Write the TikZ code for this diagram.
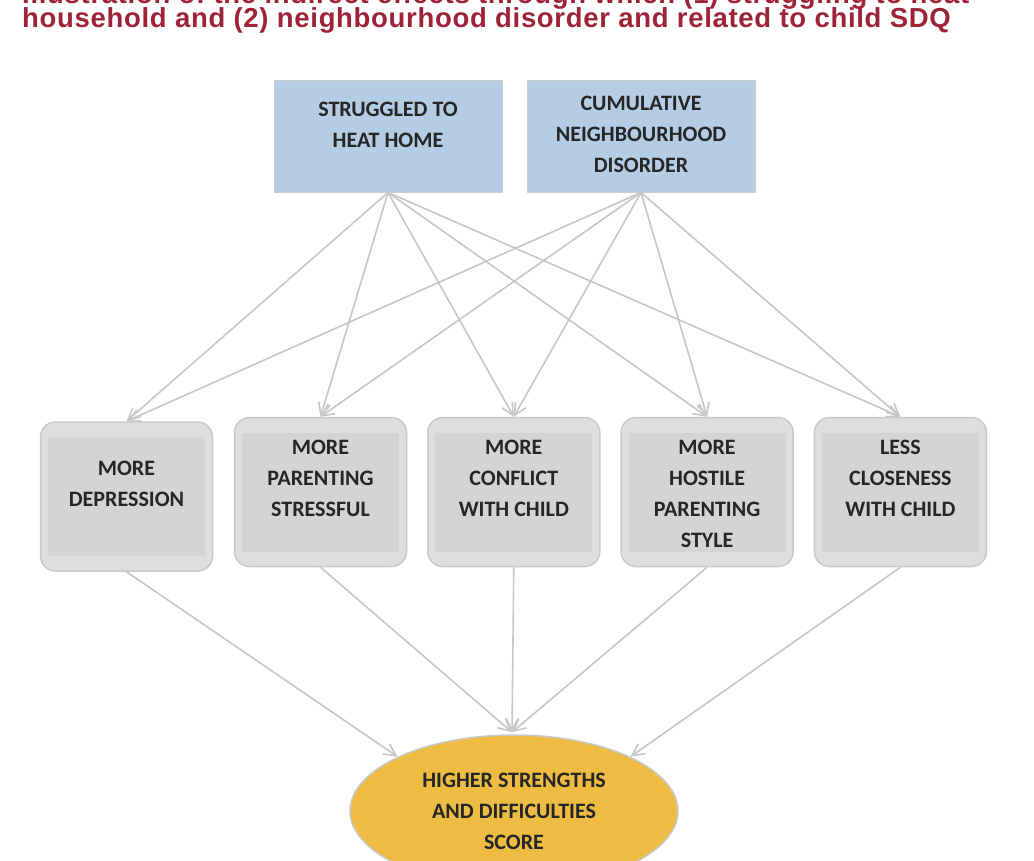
\documentclass[tikz,border=0pt]{standalone}
\usepackage{fontspec}
\setmainfont{Carlito}
\newfontfamily\titlefont[LetterSpace=2.5]{Liberation Sans}
\usepackage{tikz}
\usetikzlibrary{shapes,positioning,arrows.meta}

\definecolor{titlered}{RGB}{158,35,55}
\definecolor{textgray}{RGB}{38,38,38}
\definecolor{causeblue}{RGB}{180,205,228}
\definecolor{causeline}{RGB}{200,205,210}
\definecolor{medfill}{RGB}{221,222,224}
\definecolor{medinner}{RGB}{211,212,212}
\definecolor{medline}{RGB}{200,201,203}
\definecolor{linkgray}{RGB}{198,199,201}
\definecolor{sdqgold}{RGB}{238,188,66}

\newcommand{\boxtext}[3][170pt]{\parbox[c][#2][t]{#1}{\centering\strut #3}}

\begin{document}
\begin{tikzpicture}[x=1pt,y=-1pt,
      every node/.style={font=\fontsize{22}{31}\selectfont\bfseries,text=textgray,inner sep=0pt},
      cause/.style={rectangle,draw=causeline,fill=causeblue,line width=1pt,
        minimum width=228pt,minimum height=112pt},
      mediator/.style={rectangle,rounded corners=15pt,draw=medline,fill=medfill,line width=1.5pt,
        minimum width=172pt,minimum height=149pt,
        path picture={\fill[medinner,sharp corners] ([xshift=7.5pt,yshift=-15pt]path picture bounding box.north west)
          rectangle ([xshift=-7.5pt,yshift=15pt]path picture bounding box.south east);}},
      outcome/.style={ellipse,draw=medline,fill=sdqgold,line width=1.5pt,
        minimum width=328pt,minimum height=152pt,align=center},
      link/.style={draw=linkgray,line width=1.6pt,-{Straight Barb[length=12pt,width=12pt]}},
      heading/.style={anchor=base west,text=titlered,
        font=\titlefont\fontsize{27.5}{24}\selectfont\bfseries}]
    \useasboundingbox (0,0) rectangle (1034,860);

    % title, its first line cut off by the page
    \node[heading] (title1) at (22,3.5) {Illustration of the indirect effects through which (1) struggling to heat};
    \node[heading] (title2) at (22,27.3) {household and (2) neighbourhood disorder and related to child SDQ};

    % the two exposures
    \node[cause] (heat) at (388,136) {\boxtext[220pt]{83pt}{STRUGGLED TO\\HEAT HOME}};
    \node[cause] (nbh) at (641,136) {\boxtext[220pt]{94pt}{CUMULATIVE\\NEIGHBOURHOOD\\DISORDER}};

    % the five pathways
    \node[mediator] (dep) at (126.5,496.5) {\boxtext{86pt}{MORE\\DEPRESSION}};
    \node[mediator] (par) at (320.5,492) {\boxtext{119pt}{MORE\\PARENTING\\STRESSFUL}};
    \node[mediator,right=19.8pt of par] (con) {\boxtext{119pt}{MORE\\CONFLICT\\WITH CHILD}};
    \node[mediator,right=19.8pt of con] (hos) {\boxtext{119pt}{MORE\\HOSTILE\\PARENTING\\STYLE}};
    \node[mediator,right=19.8pt of hos] (clo) {\boxtext{119pt}{LESS\\CLOSENESS\\WITH CHILD}};

    % the outcome
    \node[outcome] (sdq) at (514,811) {HIGHER STRENGTHS\\AND DIFFICULTIES\\SCORE};
    \coordinate (sdqtop) at ([xshift=-2pt,yshift=2pt]sdq.north);

    \draw[link] (heat.south) -- (dep.north);
    \draw[link] (heat.south) -- (par.north);
    \draw[link] (heat.south) -- (con.north);
    \draw[link] (heat.south) -- (hos.north);
    \draw[link] (heat.south) -- (clo.north);
    \draw[link] (nbh.south) -- (dep.north);
    \draw[link] (nbh.south) -- (par.north);
    \draw[link] (nbh.south) -- (con.north);
    \draw[link] (nbh.south) -- (hos.north);
    \draw[link] (nbh.south) -- (clo.north);

    \draw[link] (dep.south) -- (sdq.155);
    \draw[link] (par.south) -- (sdqtop);
    \draw[link] (con.south) -- (sdqtop);
    \draw[link] (hos.south) -- (sdqtop);
    \draw[link] (clo.south) -- (sdq.25);
  \end{tikzpicture}
\end{document}
